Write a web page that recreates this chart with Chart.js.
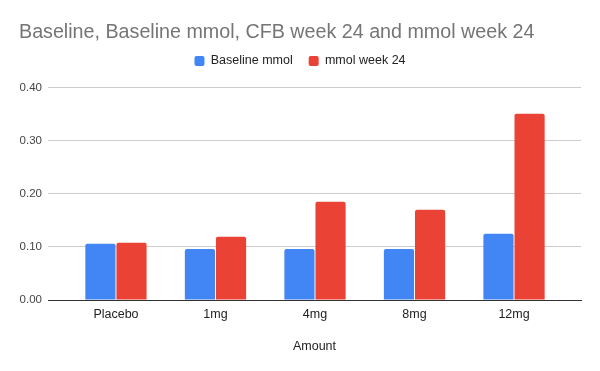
<!DOCTYPE html>
<html>
<head>
<meta charset="utf-8">
<script src="https://cdn.jsdelivr.net/npm/chart.js@4/dist/chart.umd.min.js"></script>
<style>
html,body{margin:0;padding:0;background:#fff;}
#wrap{width:600px;height:371px;position:relative;}
</style>
</head>
<body>
<div id="wrap"><canvas id="c" width="600" height="371"></canvas></div>
<script>
const categories = ["Placebo", "1mg", "4mg", "8mg", "12mg"];
const baselineMmol = [0.106, 0.096, 0.096, 0.096, 0.125];
const mmolWeek24 = [0.108, 0.119, 0.185, 0.170, 0.351];
const yTicks = [0, 0.1, 0.2, 0.3, 0.4];

const FONT = "'Liberation Sans', Arial, sans-serif";
const toPts = arr => arr.map((v, i) => ({x: i, y: v}));

const legendSpace = {
  id: 'legendSpace',
  beforeInit(chart) {
    const lg = chart.legend;
    const origFit = lg.fit;
    lg.fit = function () { origFit.call(this); this.height += 10.5; };
  }
};

new Chart(document.getElementById('c'), {
  type: 'bar',
  plugins: [legendSpace],
  data: {
    datasets: [
      {label: 'Baseline mmol', data: toPts(baselineMmol), backgroundColor: '#4285F4', borderRadius: 2, borderSkipped: 'bottom'},
      {label: 'mmol week 24', data: toPts(mmolWeek24), backgroundColor: '#EA4335', borderRadius: 2, borderSkipped: 'bottom'}
    ]
  },
  options: {
    responsive: false,
    animation: false,
    events: [],
    categoryPercentage: 0.625,
    barPercentage: 0.97,
    layout: {padding: {left: 19, right: 19, top: 0, bottom: 13}},
    plugins: {
      tooltip: {enabled: false},
      title: {
        display: true,
        text: 'Baseline, Baseline mmol, CFB week 24 and mmol week 24',
        align: 'start',
        color: '#757575',
        font: {family: FONT, size: 19.7, weight: 'normal'},
        padding: {top: 21, bottom: -6}
      },
      legend: {
        display: true,
        labels: {
          color: '#222',
          font: {family: FONT, size: 12.5},
          boxWidth: 10,
          boxHeight: 10,
          useBorderRadius: true,
          borderRadius: 2,
          padding: 16
        }
      }
    },
    scales: {
      x: {
        type: 'linear',
        min: -0.683,
        max: 4.673,
        offset: false,
        afterBuildTicks: s => { s.ticks = categories.map((_, i) => ({value: i})); },
        afterFit: s => { s.height = 58; },
        grid: {display: false, drawTicks: false},
        border: {display: true, color: '#333', width: 1},
        ticks: {
          color: '#222',
          font: {family: FONT, size: 12.5},
          padding: 7,
          autoSkip: false,
          maxRotation: 0,
          callback: v => categories[v]
        },
        title: {
          display: true,
          text: 'Amount',
          color: '#222',
          font: {family: FONT, size: 12.5},
          padding: {top: 10, bottom: 4}
        }
      },
      y: {
        min: 0,
        max: 0.4,
        afterFit: s => { s.width = 29; },
        afterBuildTicks: s => { s.ticks = yTicks.map(v => ({value: v})); },
        grid: {color: '#cccccc', drawTicks: false},
        border: {display: false},
        ticks: {
          color: '#444',
          font: {family: FONT, size: 11.5},
          padding: 6,
          callback: v => Number(v).toFixed(2)
        }
      }
    }
  }
});
</script>
</body>
</html>
